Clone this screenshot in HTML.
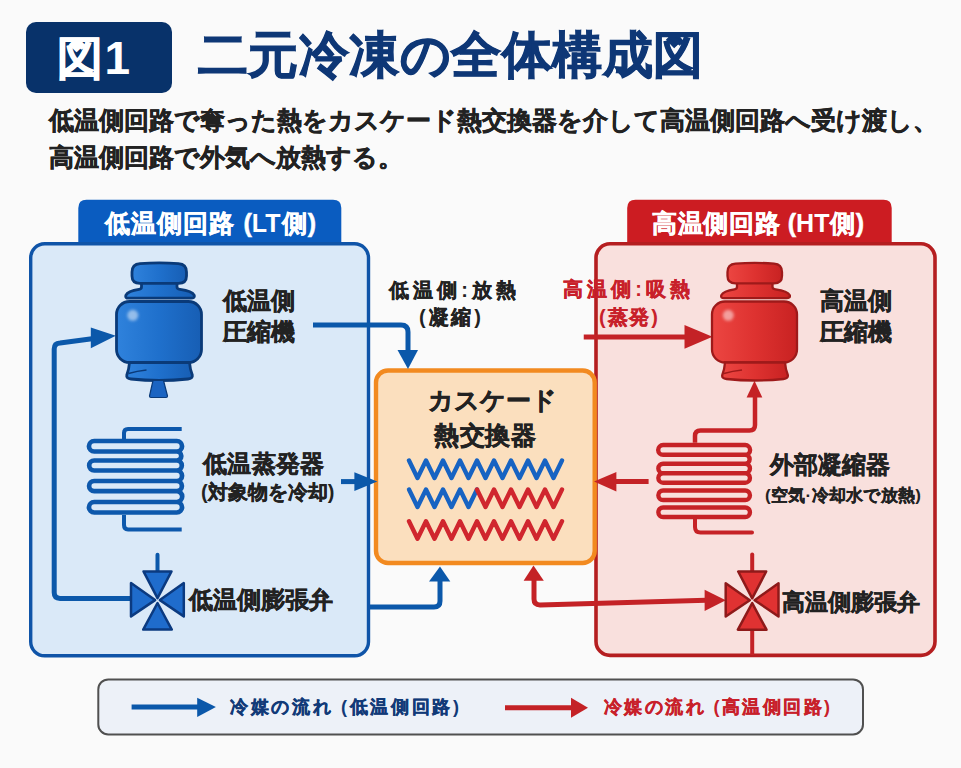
<!DOCTYPE html>
<html lang="ja"><head><meta charset="utf-8">
<style>
html,body{margin:0;padding:0;}
body{width:961px;height:768px;overflow:hidden;background:#fafafa;position:relative;font-family:"Liberation Sans",sans-serif;font-weight:bold;}
svg{position:absolute;left:0;top:0;}
.t{position:absolute;white-space:nowrap;text-align:justify;text-align-last:justify;color:#222;-webkit-text-stroke:0.14em currentColor;}
.l{-webkit-text-stroke:0.03em currentColor;}
.cjk .t{-webkit-text-stroke:0.02em currentColor;}
.cjk .l{-webkit-text-stroke:0;}
</style></head><body>
<svg width="961" height="768" viewBox="0 0 961 768">
<defs>
<linearGradient id="gb" x1="0" y1="0" x2="1" y2="0"><stop offset="0" stop-color="#2f82dc"/><stop offset="0.5" stop-color="#1f70cc"/><stop offset="1" stop-color="#175eb4"/></linearGradient>
<linearGradient id="gr" x1="0" y1="0" x2="1" y2="0"><stop offset="0" stop-color="#ec4642"/><stop offset="0.5" stop-color="#de3230"/><stop offset="1" stop-color="#c82222"/></linearGradient>
<filter id="bl" x="-1" y="-1" width="3" height="3"><feGaussianBlur stdDeviation="1.6"/></filter>
<g id="comp">
<path d="M141.5,282 V287 Q141.5,289 139,289.4 Q128,291 125.8,295.3 Q125,298.2 128.5,298.2 H191 Q195,298.2 194.3,295.3 Q192,291 180,289.4 Q177,289 177,287 V282 Z"/>
<path d="M132,272 Q132,264.2 140,263.6 Q159.3,262.2 178.5,263.6 Q186.5,264.2 186.5,272 V276 Q186.5,283.3 178.5,283.3 H140 Q132,283.3 132,276 Z"/>
<rect x="116.5" y="301.5" width="85" height="61" rx="13"/>
<path d="M129.5,362.5 H189.5 Q190,369 192.3,375 Q193,378.5 188,379 Q159,382 131,379 Q126,378.5 126.8,375 Q129,369 129.5,362.5 Z"/>
<path d="M128.5,373.5 Q137,371 146.5,370" fill="none" stroke-width="1.6"/>
</g>
<g id="valve">
<path d="M-14,-29 L14,-29 L0,-2.2 Z"/>
<path d="M-14.3,29.2 L14.3,29.2 L0,2.6 Z"/>
<path d="M-26.5,-17.3 L-26.5,16 L-2.4,-0.3 Z"/>
<path d="M26.3,-17.3 L26.3,16 L2.4,-0.3 Z"/>
</g>
</defs>
<!-- title box -->
<rect x="26" y="22" width="146" height="71" rx="10" fill="#08326a"/>
<!-- left panel -->
<path d="M78.3,244 V208 Q78.3,199.7 86.5,199.7 H333 Q341.3,199.7 341.3,208 V244 Z" fill="#0a5cc0"/>
<rect x="30.7" y="243.8" width="337.8" height="412" rx="14" fill="#dae9f8" stroke="#0f54a8" stroke-width="3.4"/>
<!-- right panel -->
<path d="M627.2,244 V208 Q627.2,199.7 635.5,199.7 H883.5 Q891.7,199.7 891.7,208 V244 Z" fill="#cc1c22"/>
<rect x="596" y="243.8" width="339" height="411.6" rx="14" fill="#f9e0dd" stroke="#b51e20" stroke-width="3.6"/>
<!-- center box -->
<rect x="376" y="370.5" width="218.7" height="192.5" rx="12" fill="#fbdfbe" stroke="#f28a20" stroke-width="4.4"/>
<!-- legend -->
<rect x="98.3" y="679.4" width="764.7" height="55.1" rx="10" fill="#edf1f8" stroke="#505050" stroke-width="2"/>

<!-- blue pipes -->
<g fill="none" stroke="#0b58aa" stroke-width="5" stroke-linejoin="round">
<path d="M131,598.4 H60 Q54.2,598.4 54.2,592.6 V349 Q54.2,343.3 60,343 L92,338.8"/>
<path d="M313,325 H401 Q408,325 408,332 V352"/>
<path d="M341,481.6 H356"/>
<path d="M370,607 H434 Q440,607 440,601 V580"/>
<path d="M131.6,707 H199"/>
<path d="M157.5,554.7 V571.7" stroke-width="4" stroke-linecap="round"/>
</g>
<g fill="#0b58aa">
<path d="M90.8,327.5 L115.8,335.8 L90.8,348.3 Z"/>
<path d="M397.5,350 L418,350 L408,369 Z"/>
<path d="M354.4,472.3 L377.3,481.6 L354.4,491 Z"/>
<path d="M429,581.6 L450.3,581.6 L440,566.4 Z"/>
<path d="M197.2,697.7 L215.9,707 L197.2,717 Z"/>
</g>
<!-- red pipes -->
<g fill="none" stroke="#c42226" stroke-width="5" stroke-linejoin="round">
<path d="M648.6,481.4 H614"/>
<path d="M583.75,337 H686"/>
<path d="M534,580 V599 Q534,604.9 540,604.9 L706,600.3"/>
<path d="M505,707.7 H573"/>
<path d="M752.2,554.4 V571.6" stroke-width="4" stroke-linecap="round"/>
<path d="M752.2,629 V655" stroke-width="4"/>
</g>
<g fill="#c42226">
<path d="M616.4,472 L594,481.4 L616.4,491.5 Z"/>
<path d="M684.5,325 L712.5,336.8 L684.5,348.75 Z"/>
<path d="M746.6,397.5 L754.5,380.8 L762.3,397.5 Z"/>
<path d="M523.6,580.7 L533.5,565.6 L543.8,580.7 Z"/>
<path d="M704.6,589.8 L725.8,600.3 L704.6,610.9 Z"/>
<path d="M571,697.7 L588,707.7 L571,717.7 Z"/>
</g>

<!-- compressors -->
<use href="#comp" fill="url(#gb)" stroke="#0a3a78" stroke-width="2.8"/>
<path d="M153,380.5 H163.5 L167.5,396 Q167.5,397.5 166,397.5 H151 Q149.5,397.5 149.5,396 Z" fill="#1a64c2" stroke="#0a3a78" stroke-width="1.2" stroke-linejoin="round"/>
<circle cx="132.8" cy="315.3" r="5.5" fill="#ffffff" opacity="0.5" filter="url(#bl)"/>
<g transform="translate(595.5,0)"><use href="#comp" fill="url(#gr)" stroke="#9e1a1a" stroke-width="2.3"/>
<circle cx="132.8" cy="315.3" r="5.5" fill="#ffffff" opacity="0.5" filter="url(#bl)"/></g>

<!-- valves -->
<use href="#valve" transform="translate(157.5,600.4)" fill="#1f6ccc" stroke="#0b3a80" stroke-width="2.5" stroke-linejoin="round"/>
<use href="#valve" transform="translate(752.2,600.5)" fill="#e03232" stroke="#8e1a1a" stroke-width="2.5" stroke-linejoin="round"/>

<!-- blue coil -->
<g fill="none" stroke="#0d58ac" stroke-width="4.7">
<path d="M94.2,441 H176.8 M94.2,451.5 H176.8 M94.2,460.5 H176.8 M94.2,470.5 H176.8 M94.2,481 H176.8 M94.2,491.2 H176.8 M94.2,502 H176.8 M94.2,512.5 H176.8 M94.2,441 A5.25,5.25 0 0 0 94.2,451.5 M94.2,460.5 A5.00,5.00 0 0 0 94.2,470.5 M94.2,481 A5.10,5.10 0 0 0 94.2,491.2 M94.2,502 A5.25,5.25 0 0 0 94.2,512.5 M176.8,441 A5.25,5.25 0 0 1 176.8,451.5 M176.8,451.5 A4.50,4.50 0 0 1 176.8,460.5 M176.8,460.5 A5.00,5.00 0 0 1 176.8,470.5 M176.8,470.5 A5.25,5.25 0 0 1 176.8,481 M176.8,481 A5.10,5.10 0 0 1 176.8,491.2 M176.8,491.2 A5.40,5.40 0 0 1 176.8,502 M176.8,502 A5.25,5.25 0 0 1 176.8,512.5"/>
<path d="M124,439 V433 Q124,429 128,429 H181.7" stroke-width="4"/>
<path d="M124,515 V525 Q124,529.4 128,529.4 H181.7" stroke-width="4"/>
</g>
<!-- red coil -->
<g fill="none" stroke="#c62226" stroke-width="4.4">
<path d="M663.1,445 H745.2 M663.1,454.8 H745.2 M663.1,463.7 H745.2 M663.1,473.2 H745.2 M663.1,482.7 H745.2 M663.1,490.5 H745.2 M663.1,500 H745.2 M663.1,507.5 H745.2 M663.1,517 H745.2 M663.1,445 A4.90,4.90 0 0 0 663.1,454.8 M663.1,463.7 A4.75,4.75 0 0 0 663.1,473.2 M663.1,473.2 A4.75,4.75 0 0 0 663.1,482.7 M663.1,490.5 A4.75,4.75 0 0 0 663.1,500 M663.1,507.5 A4.75,4.75 0 0 0 663.1,517 M745.2,445 A4.90,4.90 0 0 1 745.2,454.8 M745.2,454.8 A4.45,4.45 0 0 1 745.2,463.7 M745.2,463.7 A4.75,4.75 0 0 1 745.2,473.2 M745.2,473.2 A4.75,4.75 0 0 1 745.2,482.7 M745.2,490.5 A4.75,4.75 0 0 1 745.2,500 M745.2,507.5 A4.75,4.75 0 0 1 745.2,517"/>
<path d="M695,442.8 V436 Q695,430.5 700.5,430.5 H749.5 Q755,430.5 755,425 V396" stroke-width="4.5"/>
<path d="M695,519 V527 Q695,532.5 700.5,532.5 H752" stroke-width="4" stroke-linecap="round"/>
</g>
<!-- zigzags -->
<g fill="none" stroke-width="4.4" stroke-linejoin="round" stroke-linecap="round">
<path id="zz" d="M409,460.5 l8.5,17.5 l8.5,-17.5 l8.5,17.5 l8.5,-17.5 l8.5,17.5 l8.5,-17.5 l8.5,17.5 l8.5,-17.5 l8.5,17.5 l8.5,-17.5 l8.5,17.5 l8.5,-17.5 l8.5,17.5 l8.5,-17.5 l8.5,17.5 l8.5,-17.5 l8.5,17.5 l8.5,-17.5" stroke="#1763c2"/>
<path d="M409,489.5 l8.5,17.5 l8.5,-17.5 l8.5,17.5 l8.5,-17.5 l8.5,17.5 l8.5,-17.5 l8.5,17.5 l8.5,-17.5" stroke="#1763c2"/>
<path d="M477,489.5 l8.5,17.5 l8.5,-17.5 l8.5,17.5 l8.5,-17.5 l8.5,17.5 l8.5,-17.5 l8.5,17.5 l8.5,-17.5 l8.5,17.5 l8.5,-17.5" stroke="#d0262e"/>
<path d="M409,521.3 l8.5,17.5 l8.5,-17.5 l8.5,17.5 l8.5,-17.5 l8.5,17.5 l8.5,-17.5 l8.5,17.5 l8.5,-17.5 l8.5,17.5 l8.5,-17.5 l8.5,17.5 l8.5,-17.5 l8.5,17.5 l8.5,-17.5 l8.5,17.5 l8.5,-17.5 l8.5,17.5 l8.5,-17.5" stroke="#d0262e"/>
</g>
</svg>

<!-- texts -->
<div class="t" style="left:57px;top:35px;width:73px;font-size:46px;line-height:46px;color:#fff">図<span class="l">1</span></div>
<div class="t" style="left:198px;top:30px;width:505px;font-size:50px;line-height:50px;color:#0e3776">二元冷凍の全体構成図</div>
<div class="t" style="left:49px;top:107px;width:848px;font-size:25px;line-height:26px">低温側回路で奪った熱をカスケード熱交換器を介して高温側回路へ受け渡し、</div>
<div class="t" style="left:49px;top:144px;width:335px;font-size:25px;line-height:26px">高温側回路で外気へ放熱する。</div>

<div class="t" style="left:105px;top:210px;width:211px;font-size:25px;line-height:26px;color:#fff">低温側回路 (<span class="l">LT</span>側)</div>
<div class="t" style="left:652px;top:210px;width:212px;font-size:25px;line-height:26px;color:#fff">高温側回路 (<span class="l">HT</span>側)</div>

<div class="t" style="left:223px;top:289px;width:72px;font-size:24px;line-height:24px">低温側</div>
<div class="t" style="left:223px;top:320px;width:72px;font-size:24px;line-height:24px">圧縮機</div>
<div class="t" style="left:389px;top:280px;width:127px;font-size:20px;line-height:20px">低温側<span class="l">:</span>放熱</div>
<div class="t" style="left:419px;top:307px;width:62px;font-size:20px;line-height:20px"><span class="l">(</span>凝縮<span class="l">)</span></div>
<div class="t" style="left:563px;top:279px;width:127px;font-size:20px;line-height:20px;color:#c8202a">高温側<span class="l">:</span>吸熱</div>
<div class="t" style="left:599px;top:307px;width:59px;font-size:20px;line-height:20px;color:#c8202a"><span class="l">(</span>蒸発<span class="l">)</span></div>
<div class="t" style="left:820px;top:289px;width:71px;font-size:24px;line-height:24px">高温側</div>
<div class="t" style="left:820px;top:320px;width:72px;font-size:24px;line-height:24px">圧縮機</div>

<div class="t" style="left:428px;top:387px;width:118px;font-size:25px;line-height:26px">カスケード</div>
<div class="t" style="left:434px;top:422px;width:102px;font-size:25px;line-height:26px">熱交換器</div>

<div class="t" style="left:203px;top:452px;width:121px;font-size:24px;line-height:24px">低温蒸発器</div>
<div class="t" style="left:201px;top:482px;width:129px;font-size:20px;line-height:20px"><span class="l">(</span>対象物を冷却<span class="l">)</span></div>
<div class="t" style="left:189px;top:588px;width:141px;font-size:24px;line-height:24px">低温側膨張弁</div>
<div class="t" style="left:770px;top:453px;width:120px;font-size:24px;line-height:24px">外部凝縮器</div>
<div class="t" style="left:765px;top:487px;width:156px;font-size:17px;line-height:18px"><span class="l">(</span>空気<span class="l">·</span>冷却水で放熱<span class="l">)</span></div>
<div class="t" style="left:782px;top:590px;width:134px;font-size:23px;line-height:24px">高温側膨張弁</div>

<div class="t" style="left:230px;top:698px;width:229px;font-size:18px;line-height:19px;color:#123a78">冷媒の流れ <span class="l">(</span>低温側回路<span class="l">)</span></div>
<div class="t" style="left:604px;top:698px;width:226px;font-size:18px;line-height:19px;color:#c8202a">冷媒の流れ <span class="l">(</span>高温側回路<span class="l">)</span></div>
<script>
(function(){var s=document.createElement('span');s.style.cssText='position:absolute;left:-9999px;top:0;font:bold 100px "Liberation Sans",sans-serif;white-space:nowrap';s.textContent='\u4e8c\u4e8c\u4e8c\u4e8c\u4e8c\u4e8c\u4e8c\u4e8c\u4e8c\u4e8c';document.body.appendChild(s);if(s.getBoundingClientRect().width>900){document.body.classList.add('cjk');}document.body.removeChild(s);})();
</script>
</body></html>
